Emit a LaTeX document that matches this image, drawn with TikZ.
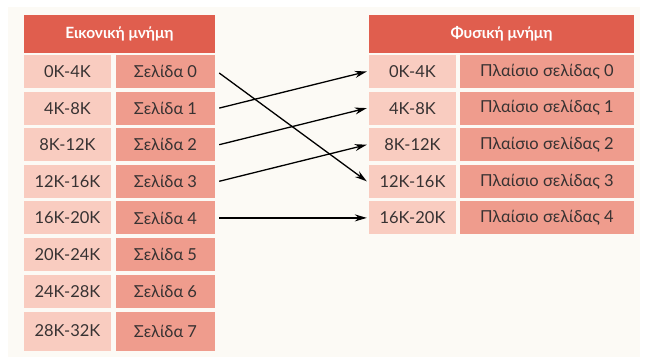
\documentclass[tikz,border=0pt]{standalone}
\usepackage{fontspec}
\setmainfont{Lato}
\usetikzlibrary{arrows.meta}
\definecolor{hdr}{RGB}{224,94,78}
\definecolor{light}{RGB}{249,204,192}
\definecolor{dark}{RGB}{239,156,141}
\definecolor{bg}{RGB}{252,250,245}
\definecolor{txt}{RGB}{55,50,50}
\begin{document}
\begin{tikzpicture}[x=1pt,y=-1pt,
  cell/.style={rectangle, inner sep=0pt, minimum height=33pt, text=txt,
    font=\fontsize{16.5}{19}\selectfont},
  lrng/.style={cell, fill=light, minimum width=87pt},
  lpage/.style={cell, fill=dark, minimum width=99pt},
  rrng/.style={cell, fill=light, minimum width=87pt},
  rframe/.style={cell, fill=dark, minimum width=174pt},
  header/.style={rectangle, inner sep=0pt, fill=hdr, minimum height=38pt, text=white,
    font=\bfseries\fontsize{15.5}{18}\selectfont},
  arr/.style={draw=black, line width=1.3pt, -{Stealth[length=12pt,width=7pt]}}
]
\useasboundingbox (0,0) rectangle (646,362);
\fill[bg] (8,7) rectangle (640,357);

% headers
\node[header, minimum width=191pt] (lh) at (119.5,34) {Εικονική μνήμη};
\node[header, minimum width=265pt] (rh) at (501.5,34) {Φυσική μνήμη};

% left table
\foreach \i/\r in {0/0K-4K,1/4K-8K,2/8K-12K,3/12K-16K,4/16K-20K,5/20K-24K,6/24K-28K}{
  \pgfmathsetmacro{\yc}{55+36.6*\i+16.5}
  \node[lrng] (lr\i) at (67.5,\yc) {\r};
  \node[lpage] (lp\i) at (165.5,\yc) {Σελίδα \i};
}
\node[lrng, minimum height=39pt] (lr7) at (67.5,331) {28K-32K};
\node[lpage, minimum height=39pt] (lp7) at (165.5,331) {Σελίδα 7};

% right table
\foreach \i/\r in {0/0K-4K,1/4K-8K,2/8K-12K,3/12K-16K,4/16K-20K}{
  \pgfmathsetmacro{\yc}{55+36.6*\i+16.5}
  \node[rrng] (rr\i) at (412.5,\yc) {\r};
  \node[rframe] (rf\i) at (547,\yc) {Πλαίσιο σελίδας \i};
}

% mappings
\draw[arr] ([xshift=4pt,yshift=-1.5pt]lp0.east) -- ([xshift=-2pt]rr3.west);
\draw[arr] ([xshift=4pt]lp1.east) -- ([xshift=-2pt]rr0.west);
\draw[arr] ([xshift=4pt]lp2.east) -- ([xshift=-2pt]rr1.west);
\draw[arr] ([xshift=4pt]lp3.east) -- ([xshift=-2pt]rr2.west);
\draw[arr] ([xshift=4pt]lp4.east) -- ([xshift=-2pt]rr4.west);
\end{tikzpicture}
\end{document}
